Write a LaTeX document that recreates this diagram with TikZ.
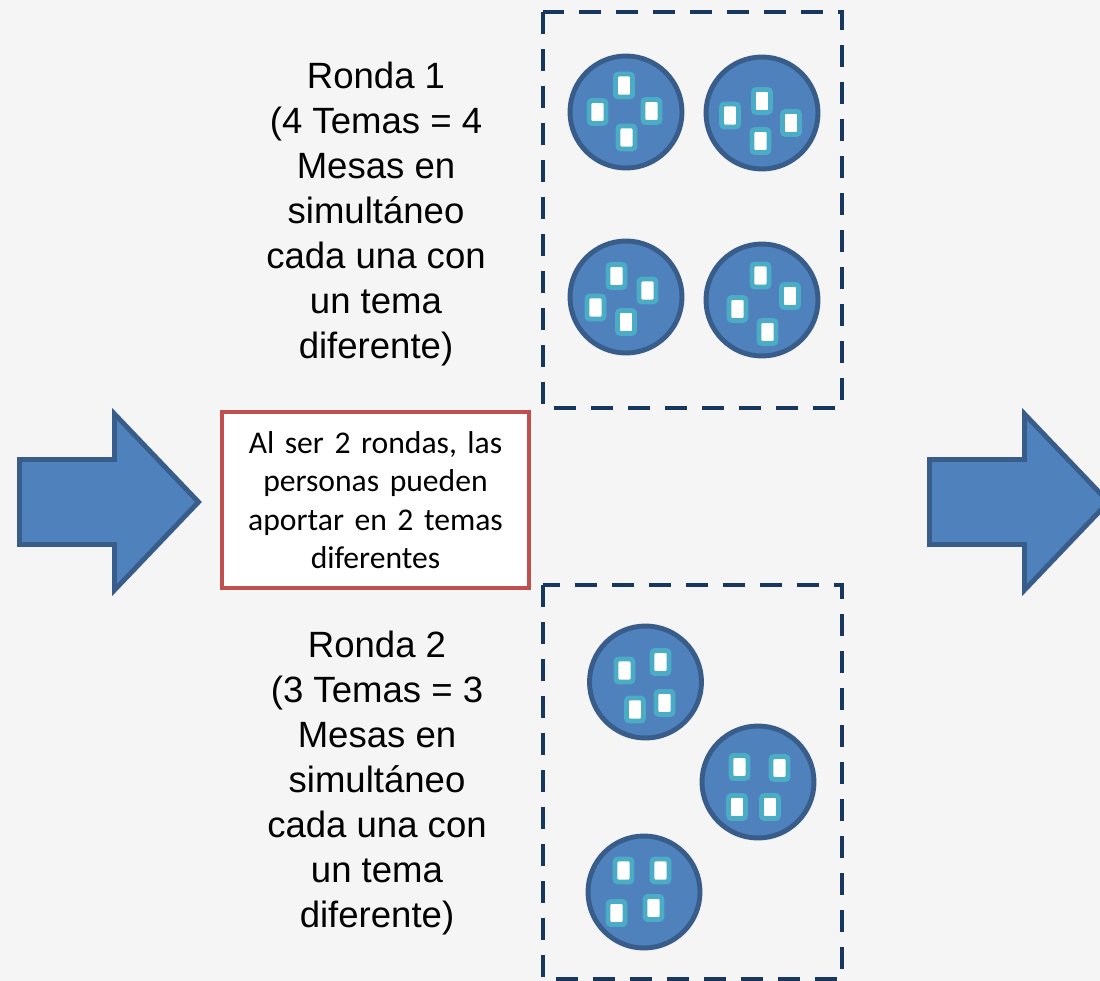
\documentclass[tikz,border=0pt]{standalone}
\usepackage{fontspec}
\setmainfont{Liberation Sans}
\newfontfamily\calibri{Carlito}
\usetikzlibrary{shapes,arrows,calc,positioning}
\definecolor{fondo}{HTML}{F5F5F5}
\definecolor{mesaAzul}{HTML}{4F81BD}
\definecolor{mesaBorde}{HTML}{385D8A}
\definecolor{sillaBorde}{HTML}{4BACC6}
\definecolor{marcoAzul}{HTML}{17375E}
\definecolor{notaRoja}{HTML}{C0504D}
\tikzset{
    mesa/.style = {circle, draw=mesaBorde, fill=mesaAzul,
        line width=2.8pt, minimum size=2.24cm, inner sep=0pt},
    silla/.style = {rectangle, rounded corners=0.06cm,
        draw=sillaBorde, fill=white, line width=2.8pt,
        minimum width=0.34cm, minimum height=0.46cm, inner sep=0pt},
    flecha/.style = {draw=mesaBorde, fill=mesaAzul, line width=2.8pt,
        line join=miter},
    marco/.style = {draw=marcoAzul, line width=2.7pt,
        dash pattern=on 0.44cm off 0.3cm},
}
\tikzstyle{ronda} = [align=center, font=\fontsize{20.8}{25.6}\selectfont]
\tikzstyle{nota} = [rectangle, draw=notaRoja, fill=white, line width=2.4pt, minimum width=6.06cm, minimum height=3.52cm, text width=5.9cm, align=center, font=\calibri\fontsize{18}{21.8}\selectfont]
% mesa con sus sillas: nombre, centro, lista dx/dy
\newcommand\mesa[3]{%
	\node (#1) [mesa] at #2 {};
	\foreach \dx/\dy [count=\n] in {#3}
		\node (#1-\n) [silla] at ($(#1)+(\dx,\dy)$) {};
}
% flecha gruesa a la derecha, desde x
\newcommand\flechaGruesa[1]{%
	\draw[flecha, shift={(#1,0)}] (2.5,459.5) -- (97.5,459.5) -- (97.5,414)
		-- (181.5,502) -- (97.5,590) -- (97.5,544.5) -- (2.5,544.5) -- cycle;
}

\begin{document}
\begin{tikzpicture}[x=0.02cm, y=-0.02cm]
	
	\fill[fondo] (0,0) rectangle (1100,981);
	\useasboundingbox (0,0) rectangle (1100,981);
	
	% flechas
	\flechaGruesa{17}
	\flechaGruesa{927}
	
	% ronda 1
	\draw[marco] (543,12) rectangle (842,408);
	\node (ronda1) [ronda] at (376,214) {Ronda 1\\(4 Temas = 4\\Mesas en\\simultáneo\\cada una con\\un tema\\diferente)};
	\mesa{mesa1}{(626,112)}{-2/-26.5, -28.5/0, 25.5/-1, 0.5/25.5}
	\mesa{mesa2}{(762,113)}{0/-12, -32/2.5, 29/10, -1.5/28}
	\mesa{mesa3}{(626,297)}{-9.5/-21, 21.5/-6.5, -30.5/10.5, 0/25}
	\mesa{mesa4}{(762,300)}{-1.5/-24.5, 28/-4, -24.5/9, 5.5/32}
	
	% nota
	\node (notaRondas) [nota] at (375.5,500) {Al ser 2 rondas, las\\personas pueden\\aportar en 2 temas\\diferentes};
	
	% ronda 2
	\draw[marco] (543,585) rectangle (842,979);
	\node (ronda2) [ronda] at (377,783) {Ronda 2\\(3 Temas = 3\\Mesas en\\simultáneo\\cada una con\\un tema\\diferente)};
	\mesa{mesa5}{(645.5,682)}{-21/-11.5, 15/-20, -10.5/27.5, 19/21}
	\mesa{mesa6}{(758,782)}{-18.5/-15, 21.5/-14, -21/25, 12/25}
	\mesa{mesa7}{(644,892)}{-20.5/-21.5, 16.5/-21.5, -27.5/21, 9.5/16}
	
\end{tikzpicture}
\end{document}
